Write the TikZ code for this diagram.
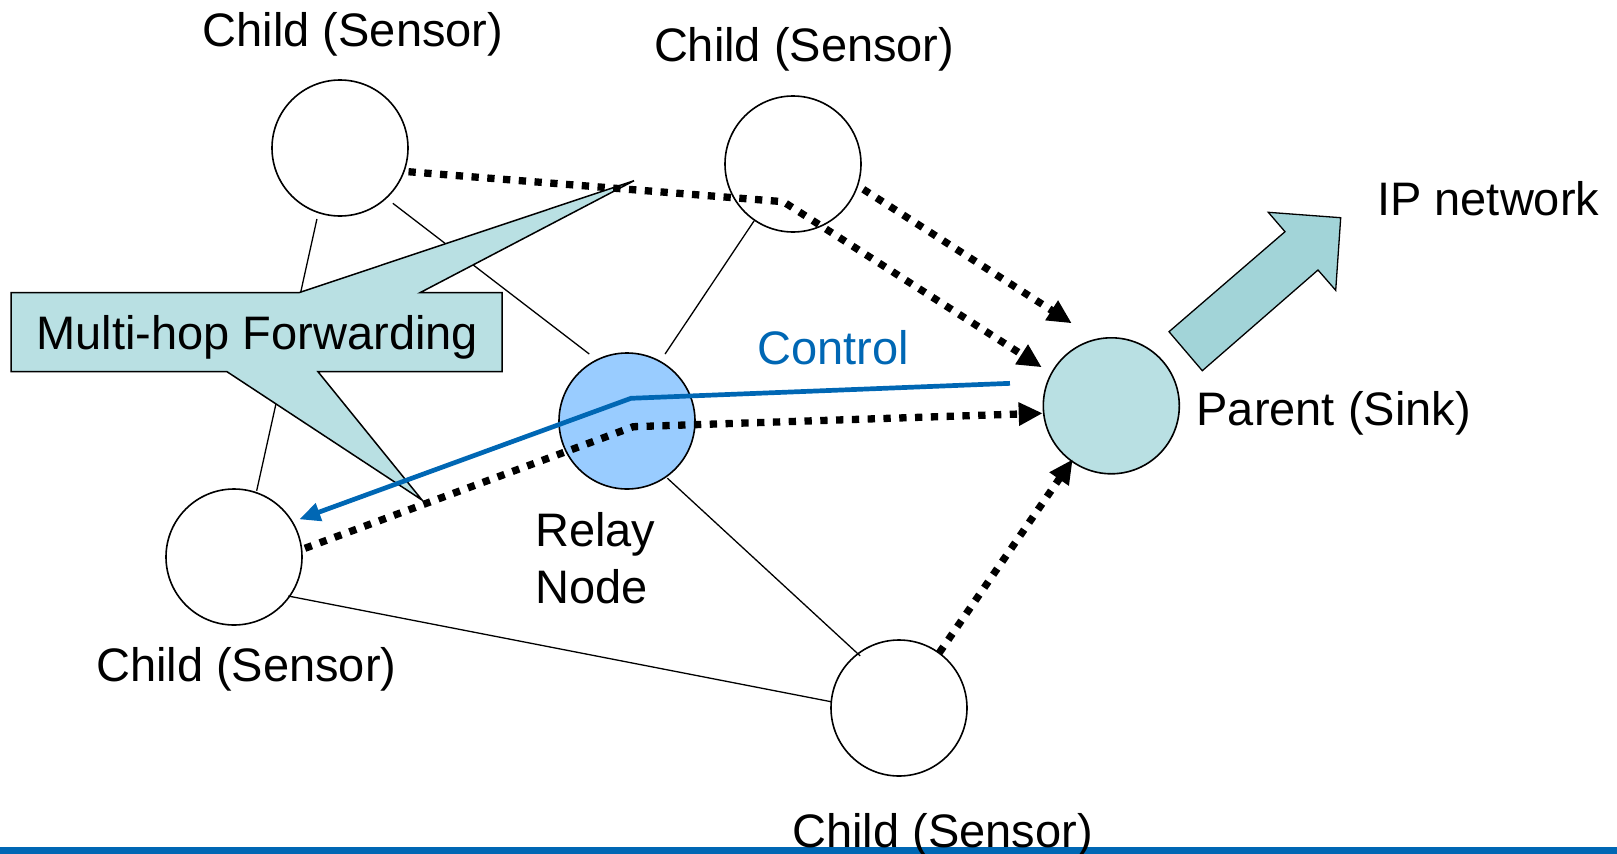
\documentclass[tikz,border=0pt]{standalone}
\usepackage{fontspec}
\setmainfont{Liberation Sans}
\usetikzlibrary{arrows.meta,calc}

\definecolor{ctrlblue}{HTML}{0067B4}
\definecolor{sinkfill}{HTML}{B9E0E3}
\definecolor{relayfill}{HTML}{99CCFF}
\definecolor{uplink}{HTML}{A2D4D8}

\tikzset{
  lbl/.style={font=\fontsize{47}{56}\selectfont, inner sep=0pt, anchor=base},
  sensor/.style={circle, draw, line width=1.6pt, fill=white, minimum size=136pt, inner sep=0pt},
  link/.style={line width=1.3pt},
  hop/.style={line width=7.3pt, dash pattern=on 7.3pt off 8.5pt,
    -{Triangle[length=24pt,width=22pt]}},
  ctrl/.style={line width=4.7pt, draw=ctrlblue, -{Triangle[length=21pt,width=18pt]}},
  balloon/.style={draw, line width=1.5pt, fill=sinkfill, line join=miter},
  bigarrow/.style={draw, line width=1.3pt, fill=uplink, line join=miter}
}

\begin{document}
\begin{tikzpicture}[x=1pt, y=1pt]
\useasboundingbox (0,0) rectangle (1617,-854);

% sensor field
\node[sensor] (tl) at (340,-148) {};
\node[sensor] (tr) at (793,-164) {};
\node[sensor, fill=relayfill] (relay) at (627,-421) {};
\node[sensor, fill=sinkfill] (parent) at (1111.3,-405.8) {};
\node[sensor] (bl) at (234,-557) {};
\node[sensor] (bot) at (899,-708) {};

% radio links
\draw[link] ($(tl)+(252:74.6)$) -- ($(bl)+(71.1:70)$);
\draw[link] ($(tl)+(-46.3:76.5)$) -- ($(relay)+(119.4:76.9)$);
\draw[link] ($(tr)+(235.6:69)$) -- ($(relay)+(60.4:77)$);
\draw[link] ($(relay)+(-54.8:70)$) -- ($(bot)+(126.7:65)$);
\draw[link] ($(bl)+(-35.7:66.9)$) -- ($(bot)+(174.7:68.3)$);

% speech balloon
\draw[balloon] (11,-292.7) -- (299,-292.7) -- (634,-180.7) -- (420,-292.7)
  -- (502,-292.7) -- (502,-371.7) -- (318,-371.7) -- (422,-500)
  -- (227,-371.7) -- (11,-371.7) -- cycle;
\node[lbl] (fwd) at (257.4,-349.3) {Multi-hop Forwarding};

% forwarding paths
\coordinate (bend1) at (783.3,-201.7);
\coordinate (bend2) at (633.3,-426.7);
\coordinate (bend3) at (631,-398.3);
\draw[hop] ($(tl)+(-19.1:72.5)$) -- (bend1) -- ($(parent)+(151:79.5)$);
\draw[hop] ($(tr)+(-19.8:74.7)$) -- ($(parent)+(115.6:91.5)$);
\draw[hop] ($(bl)+(7:71.5)$) -- (bend2) -- ($(parent)+(186.2:69)$);
\draw[hop] ($(bot)+(53.9:68.4)$) -- ($(parent)+(234.2:66)$);

% control path
\draw[ctrl] ($(parent)+(167.5:103.8)$) -- (bend3) -- ($(bl)+(30:75.4)$);

% uplink to the IP network
\draw[bigarrow] (1169,-331.7) -- (1285,-231.7) -- (1268.3,-212.3) -- (1340.7,-217.7)
  -- (1335.7,-290.3) -- (1318,-270) -- (1202.3,-370.7) -- cycle;

% footer bar
\fill[ctrlblue] (0,-846.7) rectangle (1617,-854);

% labels
\node[lbl] (ltl) at (353,-46.7) {Child (Sensor)};
\node[lbl] (ltr) at (804.2,-61.7) {Child (Sensor)};
\node[lbl] (lip) at (1488.3,-215) {IP network};
\node[lbl] (lsink) at (1333.7,-425) {Parent (Sink)};
\node[lbl, text=ctrlblue] (lctrl) at (833.3,-364.3) {Control};
\node[lbl, anchor=base west] (lrelay1) at (535,-546.7) {Relay};
\node[lbl, anchor=base west] (lrelay2) at (535,-603.3) {Node};
\node[lbl] (lbl) at (246.3,-681) {Child (Sensor)};
\node[lbl] (lbot) at (942.6,-847.7) {Child (Sensor)};
\end{tikzpicture}
\end{document}
